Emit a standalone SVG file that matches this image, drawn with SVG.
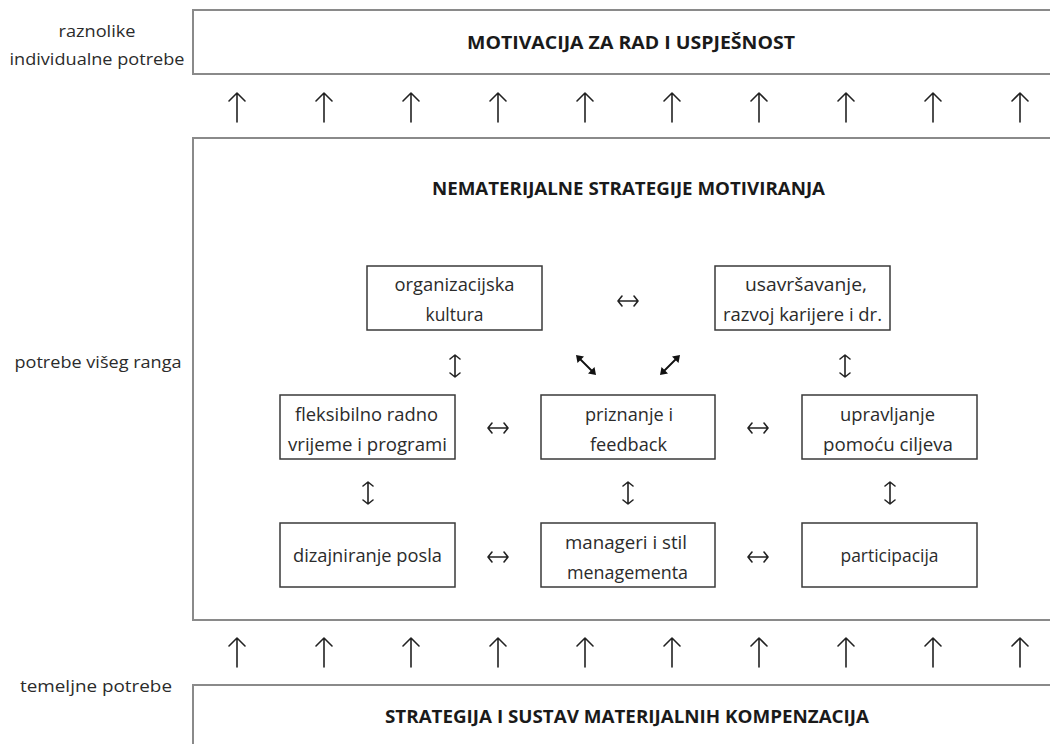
<svg xmlns="http://www.w3.org/2000/svg" xmlns:xlink="http://www.w3.org/1999/xlink" width="1050" height="744" viewBox="0 0 1050 744">
<style>
.big{fill:#fff;stroke:#8a8a8a;stroke-width:2}
.box{fill:#fff;stroke:#3a3a3a;stroke-width:1.5}
.t{font-family:"Open Sans","Liberation Sans",sans-serif;font-size:19px;fill:#2b2b2b;text-anchor:middle}
.l{font-size:17px}
.h{font-weight:bold;font-size:18px;fill:#1a1a1a}
.arr{fill:none;stroke:#222;stroke-width:1.6;stroke-linecap:round;stroke-linejoin:round}
.dg{fill:none;stroke:#111;stroke-width:1.8;stroke-linecap:round}
.dgh{fill:#111;stroke:none}
</style>
<defs>
<path id="up" d="M0,0 V29 M-8,8 L0,0 L8,8"/>
<path id="dh" d="M-10,0 H10 M-6,-5 L-10,0 L-6,5 M6,-5 L10,0 L6,5"/>
<path id="dv" d="M0,-11 V11 M-5,-7 L0,-11 L5,-7 M-5,7 L0,11 L5,7"/>
</defs>
<rect width="1050" height="744" fill="#fff"/>

<g id="labels">
<text class="t l" x="97" y="37" textLength="77" lengthAdjust="spacingAndGlyphs">raznolike</text>
<text class="t l" x="97" y="65" textLength="175" lengthAdjust="spacingAndGlyphs">individualne potrebe</text>
<text class="t l" x="98" y="368" textLength="167" lengthAdjust="spacingAndGlyphs">potrebe višeg ranga</text>
<text class="t l" x="96" y="692" textLength="152" lengthAdjust="spacingAndGlyphs">temeljne potrebe</text>
</g>

<g id="motivacija">
<rect class="big" x="193" y="10" width="870" height="64"/>
<text class="t h" x="631" y="49" textLength="328" lengthAdjust="spacingAndGlyphs">MOTIVACIJA ZA RAD I USPJEŠNOST</text>
</g>

<g id="nematerijalne">
<rect class="big" x="193" y="138" width="870" height="482"/>
<text class="t h" x="628.5" y="195" textLength="393" lengthAdjust="spacingAndGlyphs">NEMATERIJALNE STRATEGIJE MOTIVIRANJA</text>
</g>

<g id="materijalne">
<rect class="big" x="193" y="685" width="870" height="80"/>
<text class="t h" x="627" y="723" textLength="484" lengthAdjust="spacingAndGlyphs">STRATEGIJA I SUSTAV MATERIJALNIH KOMPENZACIJA</text>
</g>

<g id="organizacijska">
<rect class="box" x="367" y="266" width="175" height="64"/>
<text class="t" x="454.5" y="291" textLength="120" lengthAdjust="spacingAndGlyphs">organizacijska</text>
<text class="t" x="454.5" y="321" textLength="58" lengthAdjust="spacingAndGlyphs">kultura</text>
</g>
<g id="usavrsavanje">
<rect class="box" x="715" y="266" width="175" height="64"/>
<text class="t" x="806" y="291" textLength="122" lengthAdjust="spacingAndGlyphs">usavršavanje,</text>
<text class="t" x="802.5" y="321" textLength="159" lengthAdjust="spacingAndGlyphs">razvoj karijere i dr.</text>
</g>
<g id="fleksibilno">
<rect class="box" x="280" y="395" width="175" height="64"/>
<text class="t" x="366.5" y="421" textLength="143" lengthAdjust="spacingAndGlyphs">fleksibilno radno</text>
<text class="t" x="367.5" y="451" textLength="159" lengthAdjust="spacingAndGlyphs">vrijeme i programi</text>
</g>
<g id="priznanje">
<rect class="box" x="541" y="395" width="174" height="64"/>
<text class="t" x="629" y="421" textLength="88" lengthAdjust="spacingAndGlyphs">priznanje i</text>
<text class="t" x="628.5" y="451" textLength="77" lengthAdjust="spacingAndGlyphs">feedback</text>
</g>
<g id="upravljanje">
<rect class="box" x="802" y="395" width="175" height="64"/>
<text class="t" x="887.5" y="421" textLength="95" lengthAdjust="spacingAndGlyphs">upravljanje</text>
<text class="t" x="888" y="451" textLength="130" lengthAdjust="spacingAndGlyphs">pomoću ciljeva</text>
</g>
<g id="dizajniranje">
<rect class="box" x="280" y="523" width="175" height="64"/>
<text class="t" x="367.5" y="562" textLength="149" lengthAdjust="spacingAndGlyphs">dizajniranje posla</text>
</g>
<g id="manageri">
<rect class="box" x="541" y="523" width="174" height="64"/>
<text class="t" x="626" y="549" textLength="122" lengthAdjust="spacingAndGlyphs">manageri i stil</text>
<text class="t" x="627.5" y="579" textLength="121" lengthAdjust="spacingAndGlyphs">menagementa</text>
</g>
<g id="participacija">
<rect class="box" x="802" y="523" width="175" height="64"/>
<text class="t" x="889.5" y="562" textLength="98" lengthAdjust="spacingAndGlyphs">participacija</text>
</g>

<g id="connectors" class="arr">
<use href="#up" x="237" y="93"/><use href="#up" x="324" y="93"/><use href="#up" x="411" y="93"/><use href="#up" x="498" y="93"/><use href="#up" x="585" y="93"/>
<use href="#up" x="672" y="93"/><use href="#up" x="759" y="93"/><use href="#up" x="846" y="93"/><use href="#up" x="933" y="93"/><use href="#up" x="1020" y="93"/>
<use href="#up" x="237" y="638"/><use href="#up" x="324" y="638"/><use href="#up" x="411" y="638"/><use href="#up" x="498" y="638"/><use href="#up" x="585" y="638"/>
<use href="#up" x="672" y="638"/><use href="#up" x="759" y="638"/><use href="#up" x="846" y="638"/><use href="#up" x="933" y="638"/><use href="#up" x="1020" y="638"/>
<use href="#dh" x="628" y="301"/>
<use href="#dh" x="498" y="428"/>
<use href="#dh" x="758" y="428"/>
<use href="#dh" x="498" y="557"/>
<use href="#dh" x="758" y="557"/>
<use href="#dv" x="455" y="366"/>
<use href="#dv" x="845" y="366"/>
<use href="#dv" x="368" y="493"/>
<use href="#dv" x="628" y="493"/>
<use href="#dv" x="890" y="493"/>
<path class="dg" d="M580,359 L592,371"/>
<path class="dgh" d="M576,355 L584,356.5 L577.5,363 Z M596,375 L588,373.5 L594.5,367 Z"/>
<path class="dg" d="M664,371 L676,359"/>
<path class="dgh" d="M680,355 L678.5,363 L672,356.5 Z M660,375 L661.5,367 L668,373.5 Z"/>
</g>
</svg>
